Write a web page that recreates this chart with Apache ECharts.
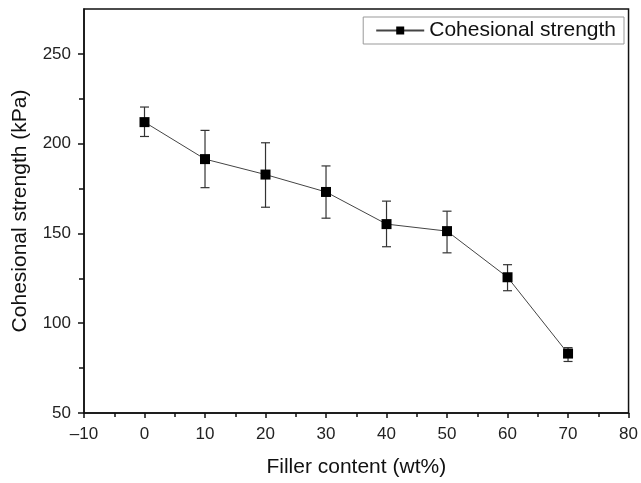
<!DOCTYPE html>
<html>
<head>
<meta charset="utf-8">
<script src="https://cdn.jsdelivr.net/npm/echarts@6/dist/echarts.min.js"></script>
<style>
  html, body { margin: 0; padding: 0; background: #fff; }
  #chart { width: 641px; height: 483px; }
</style>
</head>
<body>
<div id="chart"></div>
<script>
var filler = [0, 10, 20, 30, 40, 50, 60, 70]
var strength = [212, 191.4, 182.8, 173.1, 155.2, 151.3, 125.6, 83.1]
var errHigh = [220.4, 207.4, 200.5, 187.6, 168, 162.4, 132.6, 86.4]
var errLow = [204, 175.5, 164.6, 158.5, 142.6, 139.2, 118.1, 78.7]
var yMajor = [50, 100, 150, 200, 250]
var yMinor = [75, 125, 175, 225]

var font = 'Liberation Sans, Arial, sans-serif'
var chart = echarts.init(document.getElementById('chart'))

var lineData = filler.map(function(x, i) {
  return [x, strength[i]]
})
var errData = filler.map(function(x, i) {
  return [x, errLow[i], errHigh[i]]
})

var option = {
  animation: false,
  grid: {
    left: 84,
    right: 11,
    top: 9,
    bottom: 70,
    show: true,
    borderColor: '#111',
    borderWidth: 1.5
  },
  legend: {
    right: 17,
    top: 17,
    padding: [3, 8, 3, 12],
    borderColor: '#999',
    borderWidth: 1,
    itemWidth: 48,
    itemHeight: 10,
    itemGap: 6,
    data: ['Cohesional strength'],
    textStyle: { fontFamily: font, fontSize: 21, color: '#111' }
  },
  xAxis: {
    type: 'value',
    min: -10,
    max: 80,
    interval: 10,
    name: 'Filler content (wt%)',
    nameLocation: 'middle',
    nameGap: 44,
    nameTextStyle: { fontFamily: font, fontSize: 21, color: '#111' },
    axisLine: { show: true, onZero: false, lineStyle: { color: '#111', width: 1.5 } },
    axisTick: { show: true, length: 5, lineStyle: { color: '#111', width: 1.5 } },
    minorTick: { show: true, splitNumber: 2, length: 4, lineStyle: { color: '#111', width: 1.5 } },
    axisLabel: { fontFamily: font, fontSize: 17, color: '#222', margin: 13,
      formatter: function(v) { return v < 0 ? '\u2013' + Math.abs(v) : v } },
    splitLine: { show: false }
  },
  yAxis: [{
    type: 'value',
    min: 50,
    max: 275,
    interval: 50,
    name: 'Cohesional strength (kPa)',
    nameLocation: 'middle',
    nameGap: 53,
    nameTextStyle: { fontFamily: font, fontSize: 21, color: '#111' },
    axisLine: { show: true, onZero: false, lineStyle: { color: '#111', width: 1.5 } },
    axisTick: { show: true, length: 6, customValues: yMajor, lineStyle: { color: '#111', width: 1.5 } },
    axisLabel: { fontFamily: font, fontSize: 17, color: '#222', margin: 13, customValues: yMajor },
    splitLine: { show: false }
  }, {
    type: 'value',
    position: 'left',
    min: 50,
    max: 275,
    interval: 25,
    axisLine: { show: false, onZero: false },
    axisTick: { show: true, length: 5, customValues: yMinor, lineStyle: { color: '#111', width: 1.5 } },
    axisLabel: { show: false },
    splitLine: { show: false }
  }],
  series: [{
    type: 'custom',
    name: 'err',
    data: errData,
    z: 1,
    renderItem: function(params, api) {
      var x = api.value(0)
      var lo = api.coord([x, api.value(1)])
      var hi = api.coord([x, api.value(2)])
      var w = 4.5
      var style = { stroke: '#333', lineWidth: 1.2 }
      return {
        type: 'group',
        children: [
          { type: 'line', shape: { x1: lo[0], y1: lo[1], x2: hi[0], y2: hi[1] }, style: style },
          { type: 'line', shape: { x1: lo[0] - w, y1: lo[1], x2: lo[0] + w, y2: lo[1] }, style: style },
          { type: 'line', shape: { x1: hi[0] - w, y1: hi[1], x2: hi[0] + w, y2: hi[1] }, style: style }
        ]
      }
    }
  }, {
    type: 'line',
    name: 'Cohesional strength',
    data: lineData,
    z: 3,
    symbol: 'rect',
    symbolSize: 10,
    itemStyle: { color: '#000' },
    lineStyle: { color: '#444', width: 1 }
  }]
}
chart.setOption(option)
</script>
</body>
</html>
